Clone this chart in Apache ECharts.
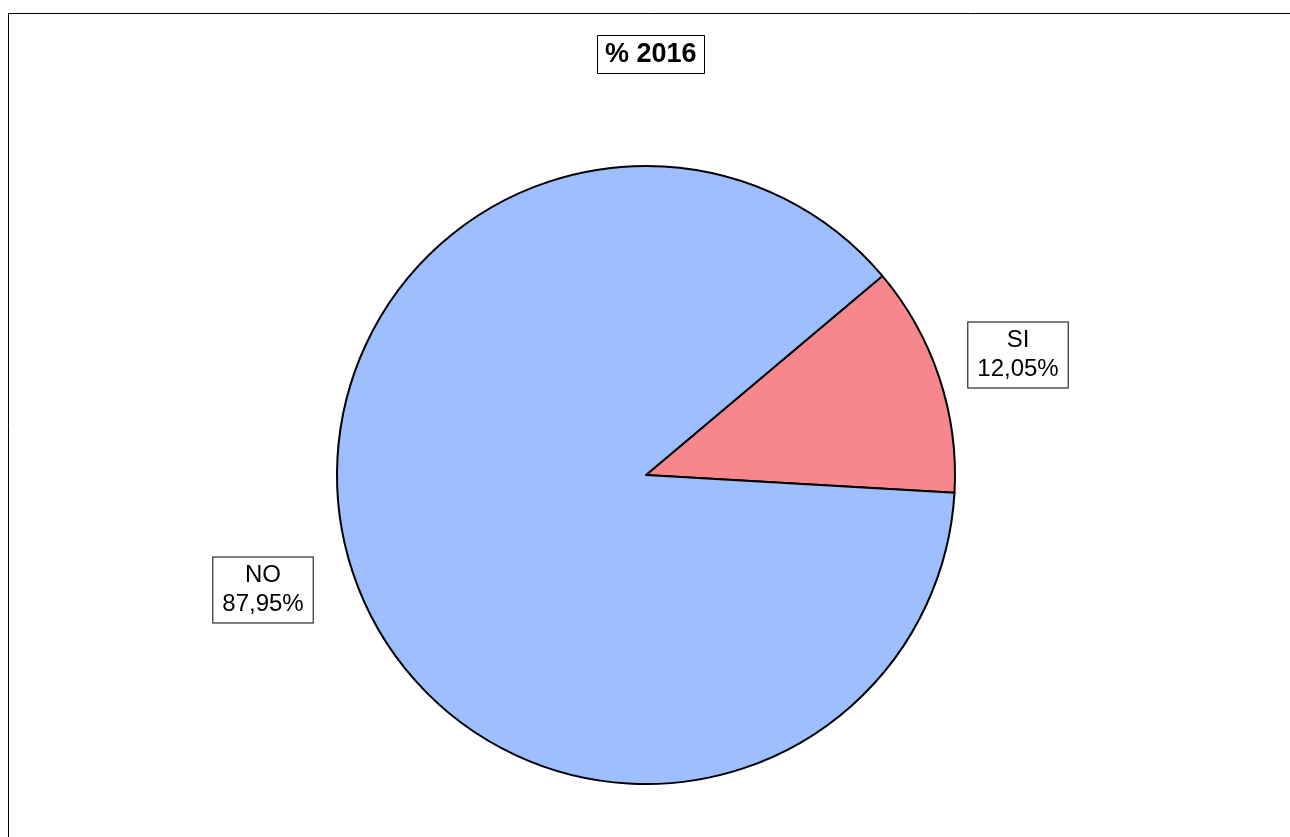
<!DOCTYPE html>
<html>
<head>
<meta charset="utf-8">
<style>
html,body{margin:0;padding:0;background:#fff;}
#chart{width:1290px;height:837px;}
</style>
<script src="https://cdn.jsdelivr.net/npm/echarts@6/dist/echarts.min.js"></script>
</head>
<body>
<div id="chart"></div>
<script>
const titleText = '% 2016';
const categories = ['SI', 'NO'];
const values = [12.05, 87.95];
const colors = ['#f7868d', '#9dbeff'];

const chart = echarts.init(document.getElementById('chart'), null, {renderer: 'canvas'});
const labelPos = [[1018, 355], [263, 590]];
chart.setOption({
  animation: false,
  backgroundColor: '#ffffff',
  graphic: [{
    type: 'rect', left: 6, top: 11, z: -1,
    shape: {width: 1283, height: 900},
    style: {fill: 'none', stroke: '#000', lineWidth: 1}
  }],
  title: {
    text: titleText,
    left: 597, top: 35,
    padding: [6, 8, 5, 8],
    borderColor: '#000', borderWidth: 1,
    backgroundColor: '#fff',
    textStyle: {fontFamily: 'Liberation Sans, Arial, sans-serif', fontSize: 27, fontWeight: 'bold', color: '#000', lineHeight: 28}
  },
  series: [{
    type: 'pie',
    center: [646, 475],
    radius: 309,
    startAngle: 40.1,
    clockwise: true,
    avoidLabelOverlap: false,
    data: categories.map((c, i) => ({name: c, value: values[i], itemStyle: {color: colors[i]}})),
    itemStyle: {borderColor: '#000', borderWidth: 2},
    label: {
      show: true,
      position: 'outside',
      formatter: p => p.name + '\n' + p.value.toFixed(2).replace('.', ',') + '%',
      fontFamily: 'Liberation Sans, Arial, sans-serif',
      fontSize: 24, lineHeight: 29, color: '#000',
      align: 'center',
      backgroundColor: '#fff', borderColor: '#000', borderWidth: 1,
      padding: [4, 9, 3, 9]
    },
    labelLine: {show: false},
    labelLayout: p => ({x: labelPos[p.dataIndex][0], y: labelPos[p.dataIndex][1], align: 'center', verticalAlign: 'middle'}),
    emphasis: {disabled: true}
  }]
});
</script>
</body>
</html>
